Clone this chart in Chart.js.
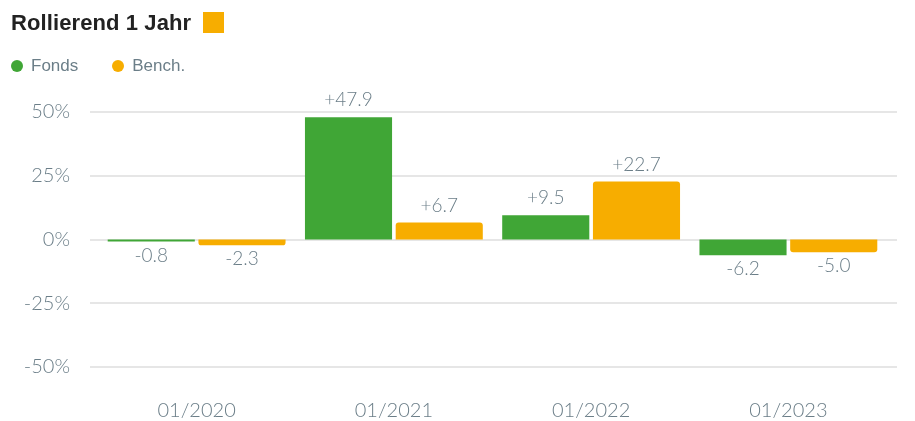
<!DOCTYPE html>
<html>
<head>
<meta charset="utf-8">
<script src="https://cdn.jsdelivr.net/npm/chart.js@4.4.1/dist/chart.umd.min.js"></script>
<style>
  html, body { margin: 0; padding: 0; background: #fff; }
  #wrap { position: relative; width: 915px; height: 421px; }
  #head { position: absolute; left: 11px; top: 10px; font: bold 22px "Liberation Sans", Arial, sans-serif; color: #222; letter-spacing: 0.1px; }
  #head span.sq { display: inline-block; width: 21px; height: 21px; background: #f7ad00; vertical-align: -3px; margin-left: 12px; }
  #legend { position: absolute; left: 11px; top: 56px; font: 17px "Liberation Sans", Arial, sans-serif; color: #6b7e88; }
  #legend .item { display: inline-block; margin-right: 34px; }
  #legend .dot { display: inline-block; width: 12px; height: 12px; border-radius: 50%; margin-right: 8px; vertical-align: -1px; }
</style>
</head>
<body>
<div id="wrap">
  <canvas id="chart" width="915" height="421"></canvas>
  <div id="head">Rollierend 1 Jahr<span class="sq"></span></div>
  <div id="legend"></div>
</div>
<script>
// Daten
const categories = ['01/2020', '01/2021', '01/2022', '01/2023'];
const fonds = [-0.8, 47.9, 9.5, -6.2];
const bench = [-2.3, 6.7, 22.7, -5.0];
const yTicks = [-50, -25, 0, 25, 50];

const green = '#40a636';
const orange = '#f7ad00';
const gray = '#6b7e88';
const tickFont = 'Lato, "Open Sans", sans-serif';

// HTML Legende
const legendItems = [['Fonds', green], ['Bench.', orange]];
document.getElementById('legend').innerHTML = legendItems.map(function (it) {
  return '<span class="item"><span class="dot" style="background:' + it[1] + '"></span>' + it[0] + '</span>';
}).join('');

// Gitterlinien etwas breiter als die Zeichenfläche
const gridPlugin = {
  id: 'grid',
  beforeDatasetsDraw(chart) {
    const ctx = chart.ctx;
    const y = chart.scales.y;
    const area = chart.chartArea;
    ctx.save();
    ctx.strokeStyle = '#e6e6e6';
    ctx.lineWidth = 2;
    yTicks.forEach(function (t) {
      const py = Math.round(y.getPixelForValue(t));
      ctx.beginPath();
      ctx.moveTo(area.left - 8, py);
      ctx.lineTo(area.right + 10, py);
      ctx.stroke();
    });
    ctx.restore();
  }
};

// Werte über / unter den Balken
const valuePlugin = {
  id: 'values',
  afterDatasetsDraw(chart) {
    const ctx = chart.ctx;
    ctx.save();
    ctx.font = '300 19px ' + tickFont;
    ctx.fillStyle = gray;
    ctx.textAlign = 'center';
    ctx.textBaseline = 'middle';
    chart.data.datasets.forEach(function (ds, i) {
      chart.getDatasetMeta(i).data.forEach(function (bar, j) {
        const v = ds.data[j];
        const txt = (v > 0 ? '+' : '') + v.toFixed(1);
        const ty = v >= 0 ? bar.y - 17 : bar.y + 14;
        ctx.fillText(txt, bar.x, ty);
      });
    });
    ctx.restore();
  }
};

let ctx = document.getElementById('chart');

let config = {
  type: 'bar',
  data: {
    labels: categories,
    datasets: [
      {
        label: 'Fonds',
        data: fonds,
        backgroundColor: green,
        borderRadius: 0
      },
      {
        label: 'Bench.',
        data: bench,
        backgroundColor: orange,
        borderRadius: 3,
        borderSkipped: 'start'
      }
    ]
  },
  options: {
    responsive: false,
    animation: false,
    categoryPercentage: 0.92,
    barPercentage: 0.96,
    layout: {
      padding: { top: 112, right: 28, bottom: 0, left: 0 }
    },
    plugins: {
      legend: { display: false },
      tooltip: { enabled: false }
    },
    scales: {
      x: {
        afterFit(scale) {
          scale.height = 54;
        },
        grid: { display: false, drawTicks: false },
        border: { display: false },
        ticks: {
          color: gray,
          padding: 32,
          maxRotation: 0,
          font: { family: tickFont, size: 20, weight: 300 }
        }
      },
      y: {
        min: -50,
        max: 50,
        afterBuildTicks(scale) {
          scale.ticks = yTicks.map(function (v) { return { value: v }; });
        },
        afterFit(scale) {
          scale.width = 98;
        },
        grid: { display: false, drawTicks: false },
        border: { display: false },
        ticks: {
          color: gray,
          padding: 28,
          font: { family: tickFont, size: 20, weight: 300 },
          callback: function (v) { return v + '%'; }
        }
      }
    }
  },
  plugins: [gridPlugin, valuePlugin]
};

let myChart = new Chart(ctx, config);
</script>
</body>
</html>
